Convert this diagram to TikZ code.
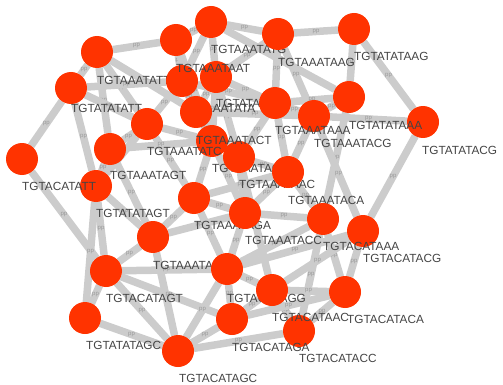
\documentclass[tikz,border=0pt]{standalone}
\usepackage{fontspec}
\setmainfont{Liberation Sans}
\usepackage{tikz}
\usetikzlibrary{backgrounds}
\definecolor{nodered}{RGB}{255,51,0}
\definecolor{linkgray}{RGB}{204,204,204}
\definecolor{textgray}{RGB}{68,68,68}

\begin{document}
\begin{tikzpicture}[x=1pt, y=-1pt,
  seq/.style={circle, fill=nodered, minimum size=32pt, inner sep=0pt, outer sep=0pt},
  seqtext/.style={anchor=west, inner sep=0pt, text=textgray, font=\fontsize{11.8}{12}\selectfont},
  link/.style={draw=linkgray, line width=7.5pt},
  pplabel/.style={inner sep=0pt, text=black!40, font=\fontsize{6}{6}\selectfont}]
\useasboundingbox (0,0) rectangle (503,385);

\node[seq] (tTT) at (71,88) {};
\node[seqtext] (tTT-l) at (71,108) {TGTATATATT};
\node[seq] (aTT) at (97,52) {};
\node[seqtext] (aTT-l) at (97,80) {TGTAAATATT};
\node[seq] (aTG) at (211,22) {};
\node[seqtext] (aTG-l) at (211,49) {TGTAAATATG};
\node[seq] (aAG) at (278,34) {};
\node[seqtext] (aAG-l) at (278,62) {TGTAAATAAG};
\node[seq] (tAG) at (354,29) {};
\node[seqtext] (tAG-l) at (354,56) {TGTATATAAG};
\node[seq] (tCG) at (423,122) {};
\node[seqtext] (tCG-l) at (422,150) {TGTATATACG};
\node[seq] (tAA) at (349,97) {};
\node[seqtext] (tAA-l) at (349,125) {TGTATATAAA};
\node[seq] (aCG) at (314,116) {};
\node[seqtext] (aCG-l) at (314,143) {TGTAAATACG};
\node[seq] (tTG) at (216,77) {};
\node[seqtext] (tTG-l) at (216,103) {TGTATATATG};
\node[seq] (aAA) at (275,103) {};
\node[seqtext] (aAA-l) at (275,130) {TGTAAATAAA};
\node[seq] (aTA) at (182,81) {};
\node[seqtext] (aTA-l) at (182,108) {TGTAAATATA};
\node[seq] (aAT) at (176,40) {};
\node[seqtext] (aAT-l) at (176,68) {TGTAAATAAT};
\node[seq] (aGG) at (212,141) {};
\node[seqtext] (aGG-l) at (212,168) {TGTAAATAGG};
\node[seq] (aAC) at (239,157) {};
\node[seqtext] (aAC-l) at (239,184) {TGTAAATAAC};
\node[seq] (aCA) at (288,172) {};
\node[seqtext] (aCA-l) at (288,200) {TGTAAATACA};
\node[seq] (aCT) at (196,112) {};
\node[seqtext] (aCT-l) at (196,140) {TGTAAATACT};
\node[seq] (aTC) at (147,124) {};
\node[seqtext] (aTC-l) at (147,151) {TGTAAATATC};
\node[seq] (aGT) at (110,149) {};
\node[seqtext] (aGT-l) at (110,175) {TGTAAATAGT};
\node[seq] (tGT) at (96,186) {};
\node[seqtext] (tGT-l) at (96,213) {TGTATATAGT};
\node[seq] (cTT) at (22,159) {};
\node[seqtext] (cTT-l) at (22,186) {TGTACATATT};
\node[seq] (aGC) at (153,237) {};
\node[seqtext] (aGC-l) at (153,265) {TGTAAATAGC};
\node[seq] (aGA) at (194,198) {};
\node[seqtext] (aGA-l) at (194,225) {TGTAAATAGA};
\node[seq] (aCC) at (245,213) {};
\node[seqtext] (aCC-l) at (245,240) {TGTAAATACC};
\node[seq] (cCG) at (363,231) {};
\node[seqtext] (cCG-l) at (363,258) {TGTACATACG};
\node[seq] (cAA) at (323,219) {};
\node[seqtext] (cAA-l) at (323,246) {TGTACATAAA};
\node[seq] (cGT) at (106,271) {};
\node[seqtext] (cGT-l) at (106,298) {TGTACATAGT};
\node[seq] (cGG) at (227,269) {};
\node[seqtext] (cGG-l) at (227,298) {TGTACATAGG};
\node[seq] (cCC) at (299,331) {};
\node[seqtext] (cCC-l) at (299,358) {TGTACATACC};
\node[seq] (cAC) at (272,290) {};
\node[seqtext] (cAC-l) at (272,317) {TGTACATAAC};
\node[seq] (cCA) at (345,292) {};
\node[seqtext] (cCA-l) at (347,319) {TGTACATACA};
\node[seq] (tGC) at (85,318) {};
\node[seqtext] (tGC-l) at (86,345) {TGTATATAGC};
\node[seq] (cGA) at (232,319) {};
\node[seqtext] (cGA-l) at (232,347) {TGTACATAGA};
\node[seq] (cGC) at (178,351) {};
\node[seqtext] (cGC-l) at (179,378) {TGTACATAGC};

\begin{pgfonlayer}{background}
\draw[link] (aTT) -- node[pplabel] {pp} (aAT);
\draw[link] (aTT) -- node[pplabel] {pp} (tTT);
\draw[link] (aTT) -- node[pplabel] {pp} (aGT);
\draw[link] (aTT) -- node[pplabel] {pp} (aTC);
\draw[link] (aTT) -- node[pplabel] {pp} (aCT);
\draw[link] (aAT) -- node[pplabel] {pp} (aTG);
\draw[link] (aAT) -- node[pplabel] {pp} (aTA);
\draw[link] (aAT) -- node[pplabel] {pp} (aCT);
\draw[link] (aAT) -- node[pplabel] {pp} (aGG);
\draw[link] (aTG) -- node[pplabel] {pp} (aAG);
\draw[link] (aTG) -- node[pplabel] {pp} (tTG);
\draw[link] (aTG) -- node[pplabel] {pp} (tAA);
\draw[link] (aTG) -- node[pplabel] {pp} (aTA);
\draw[link] (aAG) -- node[pplabel] {pp} (tAG);
\draw[link] (aAG) -- node[pplabel] {pp} (aCG);
\draw[link] (aAG) -- node[pplabel] {pp} (aAA);
\draw[link] (aAG) -- node[pplabel] {pp} (tTG);
\draw[link] (tAG) -- node[pplabel] {pp} (tAA);
\draw[link] (tAG) -- node[pplabel] {pp} (tCG);
\draw[link] (tTT) -- node[pplabel] {pp} (aTA);
\draw[link] (tTT) -- node[pplabel] {pp} (tGT);
\draw[link] (tTT) -- node[pplabel] {pp} (aTC);
\draw[link] (aTA) -- node[pplabel] {pp} (aCT);
\draw[link] (aTA) -- node[pplabel] {pp} (aTC);
\draw[link] (aTA) -- node[pplabel] {pp} (aAA);
\draw[link] (tTG) -- node[pplabel] {pp} (aCT);
\draw[link] (tTG) -- node[pplabel] {pp} (aAA);
\draw[link] (tTG) -- node[pplabel] {pp} (aGG);
\draw[link] (tTG) -- node[pplabel] {pp} (aAC);
\draw[link] (aCT) -- node[pplabel] {pp} (aGG);
\draw[link] (aCT) -- node[pplabel] {pp} (aCG);
\draw[link] (aCT) -- node[pplabel] {pp} (aAC);
\draw[link] (aTC) -- node[pplabel] {pp} (aGT);
\draw[link] (aTC) -- node[pplabel] {pp} (aGG);
\draw[link] (aTC) -- node[pplabel] {pp} (tGT);
\draw[link] (aTC) -- node[pplabel] {pp} (aGA);
\draw[link] (aAA) -- node[pplabel] {pp} (tAA);
\draw[link] (aAA) -- node[pplabel] {pp} (aCG);
\draw[link] (aAA) -- node[pplabel] {pp} (aAC);
\draw[link] (aAA) -- node[pplabel] {pp} (aCA);
\draw[link] (tAA) -- node[pplabel] {pp} (aCG);
\draw[link] (tAA) -- node[pplabel] {pp} (cAA);
\draw[link] (aCG) -- node[pplabel] {pp} (tCG);
\draw[link] (aCG) -- node[pplabel] {pp} (cCG);
\draw[link] (aCG) -- node[pplabel] {pp} (aCA);
\draw[link] (tCG) -- node[pplabel] {pp} (cCG);
\draw[link] (cTT) -- node[pplabel] {pp} (tTT);
\draw[link] (cTT) -- node[pplabel] {pp} (cGT);
\draw[link] (aGT) -- node[pplabel] {pp} (tGT);
\draw[link] (aGT) -- node[pplabel] {pp} (aGC);
\draw[link] (aGT) -- node[pplabel] {pp} (aGG);
\draw[link] (aGG) -- node[pplabel] {pp} (aAC);
\draw[link] (aGG) -- node[pplabel] {pp} (aGA);
\draw[link] (aGG) -- node[pplabel] {pp} (aCC);
\draw[link] (aAC) -- node[pplabel] {pp} (aCA);
\draw[link] (aAC) -- node[pplabel] {pp} (aCC);
\draw[link] (aAC) -- node[pplabel] {pp} (cAC);
\draw[link] (aCA) -- node[pplabel] {pp} (cAA);
\draw[link] (aCA) -- node[pplabel] {pp} (aCC);
\draw[link] (aCA) -- node[pplabel] {pp} (aGA);
\draw[link] (tGT) -- node[pplabel] {pp} (cGT);
\draw[link] (tGT) -- node[pplabel] {pp} (tGC);
\draw[link] (tGT) -- node[pplabel] {pp} (aGC);
\draw[link] (aGA) -- node[pplabel] {pp} (aGC);
\draw[link] (aGA) -- node[pplabel] {pp} (aCC);
\draw[link] (aGA) -- node[pplabel] {pp} (cGG);
\draw[link] (aCC) -- node[pplabel] {pp} (aGC);
\draw[link] (aCC) -- node[pplabel] {pp} (cGG);
\draw[link] (aCC) -- node[pplabel] {pp} (cAA);
\draw[link] (cAA) -- node[pplabel] {pp} (cCA);
\draw[link] (cAA) -- node[pplabel] {pp} (cGG);
\draw[link] (cAA) -- node[pplabel] {pp} (cCC);
\draw[link] (cCG) -- node[pplabel] {pp} (cCA);
\draw[link] (cCG) -- node[pplabel] {pp} (cGG);
\draw[link] (cCG) -- node[pplabel] {pp} (cAC);
\draw[link] (aGC) -- node[pplabel] {pp} (cGT);
\draw[link] (aGC) -- node[pplabel] {pp} (cGC);
\draw[link] (cGT) -- node[pplabel] {pp} (tGC);
\draw[link] (cGT) -- node[pplabel] {pp} (cGG);
\draw[link] (cGT) -- node[pplabel] {pp} (cGA);
\draw[link] (cGT) -- node[pplabel] {pp} (cGC);
\draw[link] (tGC) -- node[pplabel] {pp} (cGC);
\draw[link] (cGG) -- node[pplabel] {pp} (cGC);
\draw[link] (cGG) -- node[pplabel] {pp} (cAC);
\draw[link] (cGG) -- node[pplabel] {pp} (cGA);
\draw[link] (cAC) -- node[pplabel] {pp} (cCC);
\draw[link] (cAC) -- node[pplabel] {pp} (cGA);
\draw[link] (cAC) -- node[pplabel] {pp} (cCA);
\draw[link] (cGA) -- node[pplabel] {pp} (cGC);
\draw[link] (cGA) -- node[pplabel] {pp} (cCA);
\draw[link] (cCA) -- node[pplabel] {pp} (cCC);
\draw[link] (cCC) -- node[pplabel] {pp} (cGC);
\end{pgfonlayer}
\end{tikzpicture}
\end{document}
